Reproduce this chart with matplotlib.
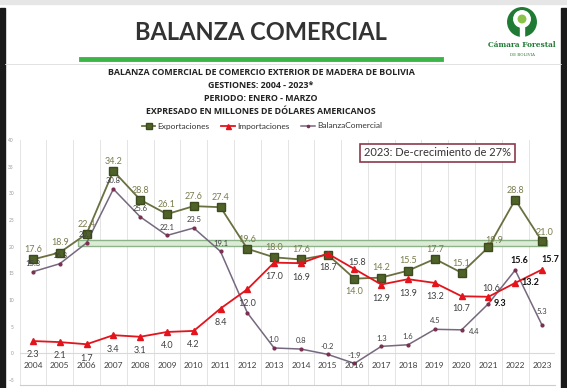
import numpy as np
import matplotlib.pyplot as plt
from matplotlib.patches import Rectangle, Circle

# data (millones de USD, enero - marzo)
anios = ['2004', '2005', '2006', '2007', '2008', '2009', '2010', '2011', '2012', '2013',
         '2014', '2015', '2016', '2017', '2018', '2019', '2020', '2021', '2022', '2023']
exportaciones = [17.6, 18.9, 22.4, 34.2, 28.8, 26.1, 27.6, 27.4, 19.6, 18.0,
                 17.6, 18.5, 14.0, 14.2, 15.5, 17.7, 15.1, 19.9, 28.8, 21.0]
importaciones = [2.3, 2.1, 1.7, 3.4, 3.1, 4.0, 4.2, 8.4, 12.0, 17.0,
                 16.9, 18.7, 15.8, 12.9, 13.9, 13.2, 10.7, 10.6, 13.2, 15.7]
balanza = [15.3, 16.8, 20.7, 30.8, 25.6, 22.1, 23.5, 19.1, 7.6, 1.0,
           0.8, -0.2, -1.9, 1.3, 1.6, 4.5, 4.4, 9.3, 15.6, 5.3]

plt.rcParams['font.family'] = ['Lato', 'DejaVu Sans']

W, H = 567, 388
fig = plt.figure(figsize=(W / 100, H / 100), dpi=100)

def fx(px):
    return px / W

def fy(py):
    return 1 - py / H

# screenshot frame
fig.patches.append(Rectangle((0, 0), fx(5), fy(8), transform=fig.transFigure, color='#1a1a1a'))
fig.patches.append(Rectangle((fx(561), 0), fx(6), fy(8), transform=fig.transFigure, color='#1a1a1a'))
fig.patches.append(Rectangle((0, fy(4)), 1, 4 / H, transform=fig.transFigure, color='#e6e6e6'))

# header
fig.text(fx(261), fy(33), 'BALANZA COMERCIAL', ha='center', va='center',
         fontsize=17, fontweight='bold', color='#333333')
fig.add_artist(plt.Line2D([fx(81), fx(441)], [fy(59), fy(59)], color='#3db446', lw=3.5))
fig.add_artist(plt.Line2D([fx(5), fx(561)], [fy(63.5), fy(63.5)], color='#dddddd', lw=0.6))

# logo (small equal-aspect axes)
lax = fig.add_axes([fx(507), fy(37), fx(30), 30 / H])
lax.set_xlim(-1, 1)
lax.set_ylim(-1, 1)
lax.set_aspect('equal')
lax.axis('off')
lax.add_patch(Circle((0, 0), 0.95, color='#1f7a34'))
lax.add_patch(Circle((0, 0.2), 0.55, color='white'))
lax.add_patch(Rectangle((-0.12, -0.9), 0.24, 0.8, color='white'))
lax.add_patch(Circle((0, 0.2), 0.25, color='#8bc34a'))
fig.text(fx(522), fy(45), 'Cámara Forestal', ha='center', va='center', fontsize=5.3,
         color='#1f7a34', family='DejaVu Serif', fontweight='bold')
fig.text(fx(522), fy(55), 'DE BOLIVIA', ha='center', va='center', fontsize=2.8,
         color='#1f7a34', family='DejaVu Serif')

subt = ['BALANZA COMERCIAL DE COMERCIO EXTERIOR DE MADERA DE BOLIVIA',
        'GESTIONES: 2004 - 2023*',
        'PERIODO: ENERO - MARZO',
        'EXPRESADO EN MILLONES DE DÓLARES AMERICANOS']
for i, s in enumerate(subt):
    fig.text(fx(261), fy(72.5 + 13 * i), s, ha='center', va='center', fontsize=6.4,
             fontweight='bold', color='#222222', family='Open Sans')

# chart
ax = fig.add_axes([fx(19.6), fy(385.3), fx(555.4 - 19.6), (385.3 - 140) / H])
x = np.arange(len(anios))
ax.set_xlim(-0.5, len(anios) - 0.5)
ax.set_ylim(-6, 40)

for b in np.arange(-0.5, len(anios), 1.0):
    ax.axvline(b, color='#e4e4e4', lw=0.7, zorder=0)
ax.axhline(0, color='#d9d9d9', lw=0.8, zorder=0)

# highlight band near 20
ax.add_patch(Rectangle((1.68, 20.1), 19.2 - 1.68, 1.1, facecolor='#dcebd6',
                       edgecolor='#8db488', lw=1.0, zorder=2))

c_imp = '#e3141b'
c_bal = '#76687f'
ax.plot(x, exportaciones, color='#6a7040', lw=1.3, marker='s', ms=5.5,
        mfc='#4f6228', mec='#3c4a1e', zorder=4, label='Exportaciones')
ax.plot(x, importaciones, color=c_imp, lw=1.3, marker='^', ms=4.5,
        mfc=c_imp, mec=c_imp, zorder=4, label='Importaciones')
ax.plot(x, balanza, color=c_bal, lw=1.1, marker='o', ms=2,
        mfc='#7a3050', mec='#7a3050', zorder=3, label='BalanzaComercial')

# label offsets (points)
off_exp = {i: (0, 7) for i in range(len(anios))}
off_exp[12] = (0, -9)
off_exp[17] = (4, 5)
off_exp[19] = (2, 6)
off_imp = {i: (0, -10) for i in range(len(anios))}
off_imp[12] = (2, 5)
off_imp[16] = (0, -9)
off_imp[17] = (2, 6)
off_imp[18] = (11, 0)
off_imp[19] = (6, 7)
off_bal = {i: (0, 6) for i in range(len(anios))}
off_bal[17] = (8, 0)
off_bal[18] = (3, 7)
off_bal[19] = (0, 10)
off_bal[16] = (9, -1)

for i in range(len(anios)):
    dx, dy = off_exp[i]
    ax.annotate(f'{exportaciones[i]:.1f}', (x[i], exportaciones[i]), xytext=(dx, dy),
                textcoords='offset points', ha='center', va='center', fontsize=6.5,
                color='#7b7c4e', zorder=1 if i == 11 else 5)
    dx, dy = off_imp[i]
    bold = i in (18, 19)
    ax.annotate(f'{importaciones[i]:.1f}', (x[i], importaciones[i]), xytext=(dx, dy),
                textcoords='offset points', ha='center', va='center', fontsize=6.5,
                color='#111111' if bold else '#404040',
                fontweight='bold' if bold else 'normal', zorder=5)
    if i == 8:
        continue
    dx, dy = off_bal[i]
    bold = i in (17, 18)
    ax.annotate(f'{balanza[i]:.1f}', (x[i], balanza[i]), xytext=(dx, dy),
                textcoords='offset points', ha='center', va='center',
                fontsize=6.5 if bold else 5.5,
                color='#111111' if bold else '#404040',
                fontweight='bold' if bold else 'normal', zorder=5)

# category labels
for i, a in enumerate(anios):
    ax.text(x[i], -2.2, a, ha='center', va='center', fontsize=6, color='#404040')

ax.set_xticks([])
ax.set_yticks(np.arange(-5, 41, 5))
ax.tick_params(axis='y', length=0, labelsize=3.5, labelcolor='#999999', pad=4)
for s in ax.spines.values():
    s.set_visible(False)
ax.spines['bottom'].set_visible(True)
ax.spines['bottom'].set_color('#cccccc')

leg = fig.legend(loc='center', bbox_to_anchor=(fx(262), fy(126)), ncol=3, frameon=False,
                 fontsize=6, handlelength=1.6, columnspacing=1.4, handletextpad=0.3,
                 markerscale=0.8)
for t in leg.get_texts():
    t.set_color('#333333')

fig.text(fx(437.5), fy(153), '2023: De-crecimiento de 27%', ha='center', va='center',
         fontsize=8, color='#333333',
         bbox=dict(boxstyle='square,pad=0.35', fc='white', ec='#8b3a4c', lw=1.2))

fig.savefig('out.png', dpi=100)
